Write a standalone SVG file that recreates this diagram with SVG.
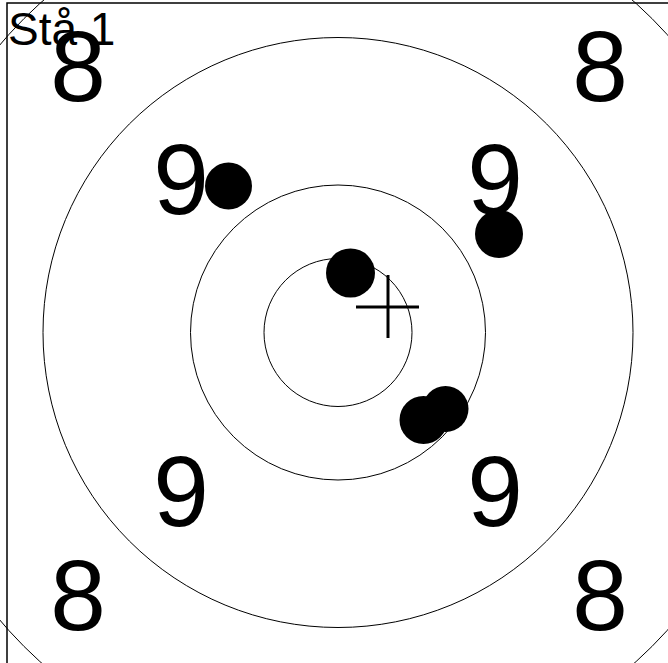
<svg xmlns="http://www.w3.org/2000/svg" width="668" height="663" viewBox="0 0 668 663">
  <style>
    .ring { fill: none; stroke: #000; stroke-width: 1; }
    .frame { fill: none; stroke: #000; stroke-width: 1.5; }
    .num { font-family: "Liberation Sans", Arial, sans-serif; font-size: 100px; fill: #000; text-anchor: middle; }
    .title { font-family: "Liberation Sans", Arial, sans-serif; font-size: 46px; fill: #000; }
    .shot { fill: #000; }
    .cross { stroke: #000; stroke-width: 3; }
  </style>
  <rect fill="#fff" x="0" y="0" width="668" height="663"/>
  <g id="frame">
    <rect class="frame" x="7" y="3" width="720" height="720"/>
  </g>
  <g id="rings">
    <circle class="ring" cx="338" cy="332.5" r="444"/>
    <circle class="ring" cx="338" cy="332.5" r="295"/>
    <circle class="ring" cx="338" cy="332.5" r="147.5"/>
    <circle class="ring" cx="338" cy="332.5" r="74"/>
  </g>
  <g id="numbers">
    <text class="num" x="78" y="101">8</text>
    <text class="num" x="600" y="101">8</text>
    <text class="num" x="78" y="630">8</text>
    <text class="num" x="600" y="630">8</text>
    <text class="num" x="181" y="214">9</text>
    <text class="num" x="495" y="214">9</text>
    <text class="num" x="181" y="526">9</text>
    <text class="num" x="495" y="526">9</text>
  </g>
  <g id="shots">
    <circle class="shot" cx="228.5" cy="186" r="23.5"/>
    <circle class="shot" cx="499" cy="234" r="24"/>
    <circle class="shot" cx="350.5" cy="273" r="24.5"/>
    <circle class="shot" cx="445.5" cy="409" r="23"/>
    <circle class="shot" cx="423.5" cy="420" r="24"/>
  </g>
  <g id="aim">
    <line class="cross" x1="388" y1="275" x2="388" y2="338"/>
    <line class="cross" x1="356" y1="307" x2="419" y2="307"/>
  </g>
  <text class="title" x="8" y="45">Stå 1</text>
</svg>
